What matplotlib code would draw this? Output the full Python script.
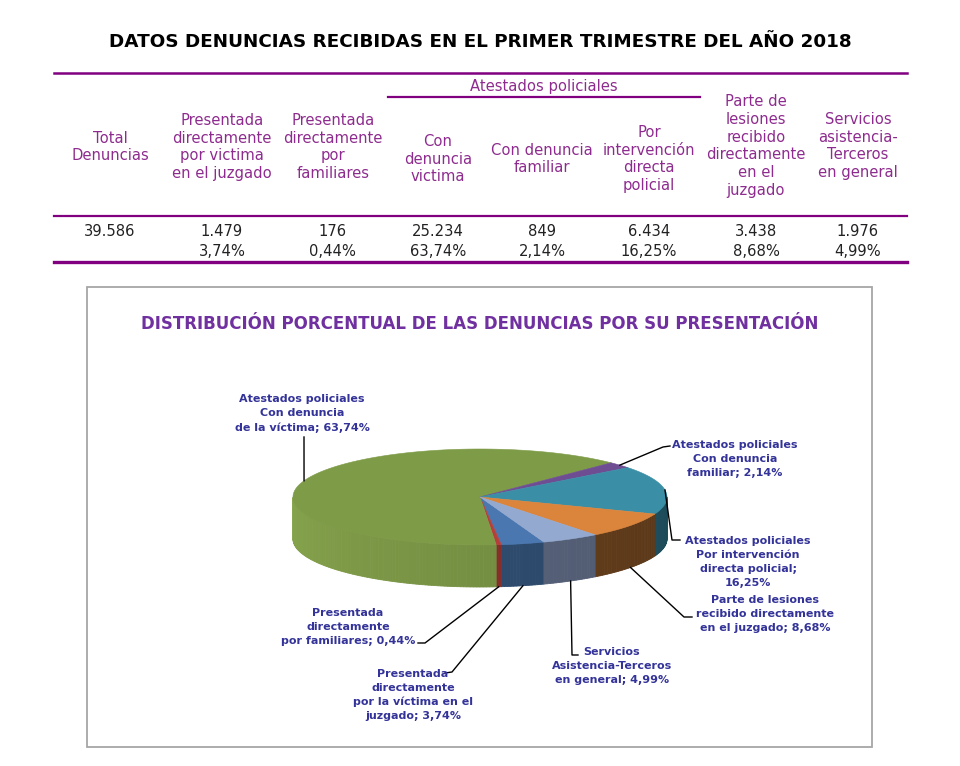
import numpy as np
import matplotlib
matplotlib.use('Agg')
import matplotlib.pyplot as plt
from matplotlib.patches import Polygon, Rectangle
from matplotlib.colors import to_rgb

# ---- data ----
headers = ['Total\nDenuncias',
           'Presentada\ndirectamente\npor victima\nen el juzgado',
           'Presentada\ndirectamente\npor\nfamiliares',
           'Con\ndenuncia\nvictima',
           'Con denuncia\nfamiliar',
           'Por\nintervención\ndirecta\npolicial',
           'Parte de\nlesiones\nrecibido\ndirectamente\nen el\njuzgado',
           'Servicios\nasistencia-\nTerceros\nen general']
total = 39586
counts = [1479, 176, 25234, 849, 6434, 3438, 1976]
pie_labels = ['Presentada\ndirectamente\npor la víctima en el\njuzgado',
              'Presentada\ndirectamente\npor familiares',
              'Atestados policiales\nCon denuncia\nde la víctima',
              'Atestados policiales\nCon denuncia\nfamiliar',
              'Atestados policiales\nPor intervención\ndirecta policial;\n',
              'Parte de lesiones\nrecibido directamente\nen el juzgado',
              'Servicios\nAsistencia-Terceros\nen general']
title = 'DATOS DENUNCIAS RECIBIDAS EN EL PRIMER TRIMESTRE DEL AÑO 2018'
chart_title = 'DISTRIBUCIÓN PORCENTUAL DE LAS DENUNCIAS POR SU PRESENTACIÓN'

top_colors = ['#4A77B0', '#B5403B', '#7E9B48', '#6E4D93', '#3A8FA6', '#DB843C', '#93A9CF']
side_colors = ['#35577F', '#9A3530', '#86A44C', '#5A3E7A', '#276376', '#754820', '#64718D']

PURPLE_TXT = '#8E2B8E'
PURPLE_LINE = '#800080'
LABEL_C = '#333399'


def num(v):
    return f'{v:,}'.replace(',', '.')


def pct(v):
    return f'{100 * v / total:.2f}%'.replace('.', ',')


def lines_text(ax, x, yc, text, step, **kw):
    rows = text.split('\n')
    n = len(rows)
    for i, r in enumerate(rows):
        ax.text(x, yc + (i - (n - 1) / 2) * step, r, ha='center', va='center', **kw)


fig = plt.figure(figsize=(9.6, 7.66), dpi=100)
ax = fig.add_axes([0, 0, 1, 1])
ax.set_xlim(0, 960)
ax.set_ylim(766, 0)
ax.axis('off')

# ---- title ----
t1 = ax.text(480, 42, title, ha='center', va='center', fontsize=12,
             fontweight='bold', color='black', family='DejaVu Sans')

# ---- table ----
ax.plot([54, 907], [73, 73], color=PURPLE_LINE, lw=1.8)
ax.plot([388, 700], [97, 97], color=PURPLE_LINE, lw=1.6)
ax.plot([54, 907], [216, 216], color=PURPLE_LINE, lw=1.6)
ax.plot([54, 907], [262, 262], color=PURPLE_LINE, lw=2.4)
ax.text(544, 87, 'Atestados policiales', ha='center', va='center',
        fontsize=10.6, color=PURPLE_TXT)

col_x = [110, 222, 333, 438, 542, 649, 756, 858]
head_y = [147, 147, 147, 159, 159, 159, 146, 146]
for x, y, h in zip(col_x, head_y, headers):
    lines_text(ax, x, y, h, 17.6, fontsize=10.6, color=PURPLE_TXT)

ax.text(col_x[0], 231, num(total), ha='center', va='center', fontsize=10.6, color='#222222')
for x, v in zip(col_x[1:], counts):
    ax.text(x, 231, num(v), ha='center', va='center', fontsize=10.6, color='#222222')
    ax.text(x, 252, pct(v), ha='center', va='center', fontsize=10.6, color='#222222')

# ---- chart box ----
ax.add_patch(Rectangle((87, 287), 785, 460, fill=False, edgecolor='#A6A6A6', lw=1.3))
t2 = ax.text(480, 324, chart_title, ha='center', va='center', fontsize=11,
             fontweight='bold', color='#7030A0', family='DejaVu Sans')

# ---- 3D pie ----
cx, cy, rx, ry, depth = 480, 497, 187, 48, 42
fracs = np.array(counts) / total
edges = 290.0 - 360 * np.concatenate([[0], np.cumsum(fracs)])


def pt(a, dy=0.0):
    r = np.radians(a)
    return cx + rx * np.cos(r), cy - ry * np.sin(r) + dy


# side walls (front half only)
for i in range(len(counts)):
    hi, lo = edges[i], edges[i + 1]
    n = max(2, int(abs(hi - lo)) + 2)
    ts = np.linspace(lo, hi, n)
    base = np.array(to_rgb(side_colors[i]))
    for t0, t1_ in zip(ts[:-1], ts[1:]):
        mid = (t0 + t1_) / 2
        if np.sin(np.radians(mid)) >= 0:
            continue
        u = ((mid % 360) - 180) / 180
        c = np.clip(base * (1.0 - 0.25 * u), 0, 1)
        x0, y0 = pt(t0)
        x1, y1 = pt(t1_)
        ax.add_patch(Polygon([(x0, y0), (x1, y1), (x1, y1 + depth), (x0, y0 + depth)],
                             closed=True, facecolor=c, edgecolor=c, lw=0.6))

# top faces
for i in range(len(counts)):
    hi, lo = edges[i], edges[i + 1]
    ts = np.linspace(lo, hi, max(3, int(abs(hi - lo) * 2)))
    poly = [(cx, cy)] + [pt(t) for t in ts]
    ax.add_patch(Polygon(poly, closed=True, facecolor=top_colors[i],
                         edgecolor=top_colors[i], lw=0.4))

# labels with leader lines
label_pos = [(413, 695), (348, 627), (302, 413), (735, 459), (748, 562), (765, 614), (612, 666)]
elbows = [[(452, 672), (445, 673)],
          [(425, 643), (418, 643)],
          [(304, 437)],
          [(663, 447), (670, 446)],
          [(672, 540), (680, 540)],
          [(684, 617), (692, 617)],
          [(572, 655), (578, 655)]]
for i in range(len(counts)):
    mid = (edges[i] + edges[i + 1]) / 2
    if np.sin(np.radians(mid)) > 0:
        ax_, ay_ = pt(mid)
    else:
        ax_, ay_ = pt(mid, depth)
    path = [(ax_, ay_)] + elbows[i]
    ax.plot([p[0] for p in path], [p[1] for p in path], color='black', lw=1.0)
    lab = pie_labels[i]
    if lab.endswith('\n'):
        lab = lab + pct(counts[i])
    else:
        lab = lab + '; ' + pct(counts[i])
    lines_text(ax, label_pos[i][0], label_pos[i][1], lab, 14.3,
               fontsize=8, fontweight='bold', color=LABEL_C)

# fit titles to their width in the reference
fig.canvas.draw()
for t, w in [(t1, 741), (t2, 676)]:
    bb = t.get_window_extent()
    t.set_fontsize(t.get_fontsize() * w / bb.width)

fig.savefig('out.png', dpi=100)
